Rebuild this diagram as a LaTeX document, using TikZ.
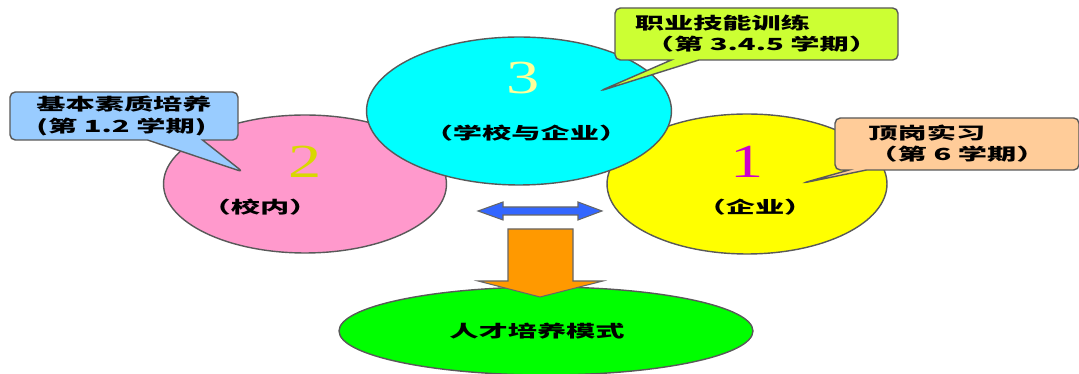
\documentclass[tikz,border=0pt]{standalone}
\usepackage{fontspec}
\newfontfamily\cjk[FakeStretch=1.75]{Noto Sans CJK SC}
\newfontfamily\numfont[FakeStretch=1.4]{Liberation Serif}
\usepackage{tikz}
\usetikzlibrary{shapes.geometric, shapes.callouts}
\definecolor{pinkFill}{HTML}{FF99CC}
\definecolor{cyanFill}{HTML}{00FFFF}
\definecolor{yellowFill}{HTML}{FFFF00}
\definecolor{greenFill}{HTML}{00FF00}
\definecolor{calloutBlue}{HTML}{99CCFF}
\definecolor{calloutLime}{HTML}{CCFF33}
\definecolor{calloutPeach}{HTML}{FFCC99}
\definecolor{arrowBlue}{HTML}{3366FF}
\definecolor{arrowOrange}{HTML}{FF9900}
\definecolor{numYellow}{HTML}{D8D800}
\definecolor{numPale}{HTML}{FFFF99}
\definecolor{numMagenta}{HTML}{CC00CC}

\begin{document}
\begin{tikzpicture}[x=0.02cm, y=-0.02cm]
	%defines
	\tikzstyle{circleBase} = [ellipse, draw=black!65, line width=0.8pt, inner sep=0pt]
	\tikzstyle{campus} = [circleBase, fill=pinkFill, minimum width=5.66cm, minimum height=2.76cm]
	\tikzstyle{schoolCompany} = [circleBase, fill=cyanFill, minimum width=6.1cm, minimum height=2.96cm]
	\tikzstyle{company} = [circleBase, fill=yellowFill, minimum width=5.6cm, minimum height=2.8cm]
	\tikzstyle{trainingMode} = [circleBase, fill=greenFill, minimum width=8.28cm, minimum height=1.76cm]
	\tikzstyle{circleText} = [font=\cjk\fontsize{9.5}{12}\selectfont\bfseries, inner sep=0pt]
	\tikzstyle{bigNumber} = [font=\numfont\fontsize{27}{30}\selectfont, inner sep=0pt]
	\tikzstyle{calloutBase} = [rectangle callout, rounded corners=3pt, draw=black!65, line width=0.8pt, align=left, inner sep=0pt, font=\cjk\fontsize{9.5}{12}\selectfont\bfseries]
	\tikzstyle{qualityCallout} = [calloutBase, fill=calloutBlue, minimum width=4.56cm, minimum height=0.96cm, callout pointer width=1.1cm]
	\tikzstyle{skillCallout} = [calloutBase, fill=calloutLime, minimum width=5.66cm, minimum height=1.04cm, callout pointer width=0.55cm]
	\tikzstyle{internCallout} = [calloutBase, fill=calloutPeach, minimum width=4.88cm, minimum height=1.04cm, callout pointer width=0.35cm]
	\tikzstyle{blockArrow} = [draw=black!60, line width=0.6pt]
	%chart
	\fill[white] (0,0) rectangle (1079,374);
	\useasboundingbox (0,0) rectangle (1079,374);
	\node (campus) [campus] at (305,184) {};
	\node (company) [company] at (747,184) {};
	\node (schoolCompany) [schoolCompany] at (519,111) {};
	\node (trainingMode) [trainingMode] at (546,331) {};
	\node (numTwo) [bigNumber, text=numYellow] at (305,162) {2};
	\node (numThree) [bigNumber, text=numPale] at (523,78) {3};
	\node (numOne) [bigNumber, text=numMagenta] at (747,162) {1};
	\node (campusText) [circleText] at (260,207) {（校内）};
	\node (schoolCompanyText) [circleText] at (526,133) {（学校与企业）};
	\node (companyText) [circleText] at (755,207) {（企业）};
	\node (trainingModeText) [circleText] at (537,331) {人才培养模式};
	\filldraw[blockArrow, fill=arrowBlue] (478,211) -- (503,202) -- (503,207) -- (578,207) -- (578,202) -- (602,211) -- (578,220) -- (578,215) -- (503,215) -- (503,220) -- cycle;
	\filldraw[blockArrow, fill=arrowOrange] (508,229) -- (573,229) -- (573,281) -- (603,281) -- (540,297) -- (478,281) -- (508,281) -- cycle;
	\node (basicQuality) [qualityCallout, callout absolute pointer={(243,172)}] at (124,116) {基本素质培养\\(第 1.2 学期)};
	\node (skillTraining) [skillCallout, callout absolute pointer={(600,91)}] at (756.5,34) {职业技能训练\\\hspace*{0.2cm}（第 3.4.5 学期）};
	\node (internship) [internCallout, callout absolute pointer={(803,183)}] at (957,144) {顶岗实习\\（第 6 学期）};
\end{tikzpicture}
\end{document}
